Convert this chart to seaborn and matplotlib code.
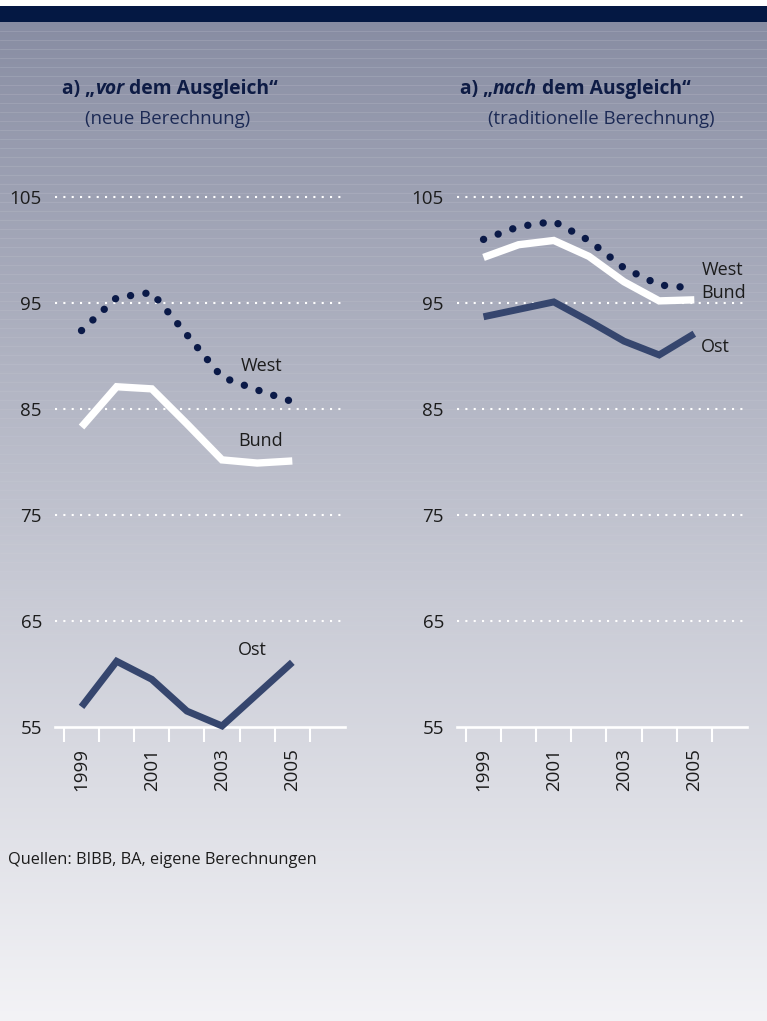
import matplotlib
matplotlib.use("Agg")
import matplotlib.pyplot as plt
import numpy as np
import seaborn as sns

# data
years = [1999, 2000, 2001, 2002, 2003, 2004, 2005]
year_ticks = [1999, 2001, 2003, 2005]
y_ticks = [55, 65, 75, 85, 95, 105]

# a) "vor dem Ausgleich" (neue Berechnung)
vor_west = [92.4, 95.5, 96.0, 92.0, 88.0, 86.8, 85.7]
vor_bund = [83.3, 87.1, 86.9, 83.6, 80.2, 79.9, 80.1]
vor_ost = [56.9, 61.2, 59.5, 56.5, 55.1, 58.1, 61.1]

# a) "nach dem Ausgleich" (traditionelle Berechnung)
nach_west = [101.0, 102.2, 102.7, 100.9, 98.3, 96.7, 96.4]
nach_bund = [99.3, 100.5, 100.9, 99.4, 97.0, 95.2, 95.3]
nach_ost = [93.7, 94.4, 95.1, 93.3, 91.4, 90.1, 92.1]

WEST_COLOR = "#0b1a48"
OST_COLOR = "#36466e"
TITLE_COLOR = "#0e1c45"
TEXT_COLOR = "#1c1c1c"
W, H = 767, 1021

sns.set_style("white")
plt.rcParams["font.family"] = ["Open Sans", "DejaVu Sans"]


def px(x, y):
    """Pixel position (from top left) to figure fraction."""
    return x / W, 1 - y / H


def draw_background(fig):
    bg = fig.add_axes([0, 0, 1, 1], zorder=0)
    rows = np.arange(H)
    t = np.clip((rows - 22) / (H - 22), 0, 1) ** 0.9
    top = np.array([135, 140, 162])
    bot = np.array([243, 243, 246])
    col = top + t[:, None] * (bot - top)
    col[:7] = 255
    col[7:23] = [4, 24, 67]
    img = np.repeat(col[:, None, :], 2, axis=1) / 255
    bg.imshow(img, extent=(0, W, H, 0), aspect="auto", interpolation="nearest")
    for y in np.arange(31, 770, 9):
        a = 0.12 * (1 - (y - 31) / 740)
        bg.axhline(y, color="white", linewidth=0.8, alpha=a)
    bg.set_xlim(0, W)
    bg.set_ylim(H, 0)
    bg.axis("off")


def draw_panel(fig, left, west, bund, ost, labels):
    ax = fig.add_axes([left / W, 1 - 727 / H, 290 / W, 540.6 / H], zorder=1)
    ax.patch.set_alpha(0)
    idx = np.arange(len(years))

    sns.lineplot(x=idx, y=ost, ax=ax, color=OST_COLOR, linewidth=5.0,
                 solid_joinstyle="miter", solid_capstyle="butt", clip_on=False, zorder=3)
    sns.lineplot(x=idx, y=bund, ax=ax, color="white", linewidth=5.3,
                 solid_joinstyle="miter", solid_capstyle="butt", clip_on=False, zorder=3)
    sns.lineplot(x=idx, y=west, ax=ax, color=WEST_COLOR, linewidth=5.3,
                 linestyle=(0, (0.01, 2.1)), dash_capstyle="round", clip_on=False, zorder=4)

    for name, (lx, ly) in labels.items():
        ax.text(lx, ly, name, fontsize=13, color=TEXT_COLOR, ha="left", va="center")

    ax.set_xlim(-0.755, 7.5)
    ax.set_ylim(55, 106)
    ax.set_xlabel("")
    ax.set_ylabel("")

    ax.set_yticks(y_ticks)
    ax.set_yticklabels([str(v) for v in y_ticks])
    ax.tick_params(axis="y", length=0, pad=9.4, labelsize=13.5, labelcolor=TEXT_COLOR)
    ax.grid(False)
    for v in y_ticks[1:]:
        ax.axhline(v, color="white", linewidth=1.5, linestyle=(0, (1, 3)), zorder=1)

    ax.set_xticks([years.index(y) for y in year_ticks])
    ax.set_xticklabels([str(y) for y in year_ticks], rotation=90)
    ax.set_xticks(np.arange(-0.5, len(years), 1.0), minor=True)
    ax.tick_params(axis="x", which="major", bottom=True, length=0, pad=15,
                   labelsize=13.5, labelcolor=TEXT_COLOR)
    ax.tick_params(axis="x", which="minor", bottom=True, length=10.8, width=1.5,
                   color="white", direction="out")

    for s in ["top", "right", "left"]:
        ax.spines[s].set_visible(False)
    ax.spines["bottom"].set_color("white")
    ax.spines["bottom"].set_linewidth(1.9)
    ax.spines["bottom"].set_zorder(2)
    return ax


def draw_title(fig, x, y, before, emph, after, sub, sub_x):
    t1 = fig.text(*px(x, y), before, fontsize=13.9, fontweight="bold",
                  color=TITLE_COLOR, va="bottom", ha="left")
    t2 = fig.text(0, 0, emph, fontsize=13.9, fontweight="bold", fontstyle="italic",
                  color=TITLE_COLOR, va="bottom", ha="left")
    t3 = fig.text(0, 0, after, fontsize=13.9, fontweight="bold",
                  color=TITLE_COLOR, va="bottom", ha="left")
    fig.canvas.draw()
    r = fig.canvas.get_renderer()
    inv = fig.transFigure.inverted()
    b1 = t1.get_window_extent(r)
    t2.set_position(inv.transform((b1.x1, b1.y0)))
    b2 = t2.get_window_extent(r)
    t3.set_position(inv.transform((b2.x1, b2.y0)))
    fig.text(*px(sub_x, y + 29), sub, fontsize=13.4, color="#1c2a55",
             va="bottom", ha="left")


fig = plt.figure(figsize=(W / 100, H / 100), dpi=100)
draw_background(fig)

draw_panel(fig, 55, vor_west, vor_bund, vor_ost,
           {"West": (4.52, 89.1), "Bund": (4.46, 82.0), "Ost": (4.46, 62.3)})
draw_panel(fig, 457, nach_west, nach_bund, nach_ost,
           {"West": (6.2, 98.1), "Bund": (6.2, 95.9), "Ost": (6.2, 90.85)})

draw_title(fig, 62, 99, "a) \u201e", "vor", " dem Ausgleich\u201c",
           "(neue Berechnung)", 85)
draw_title(fig, 460, 99, "a) \u201e", "nach", " dem Ausgleich\u201c",
           "(traditionelle Berechnung)", 488)

fig.text(*px(8, 860), "Quellen: BIBB, BA, eigene Berechnungen",
         fontsize=11.8, color=TEXT_COLOR, va="center", ha="left")

fig.savefig("out.png", dpi=100)
